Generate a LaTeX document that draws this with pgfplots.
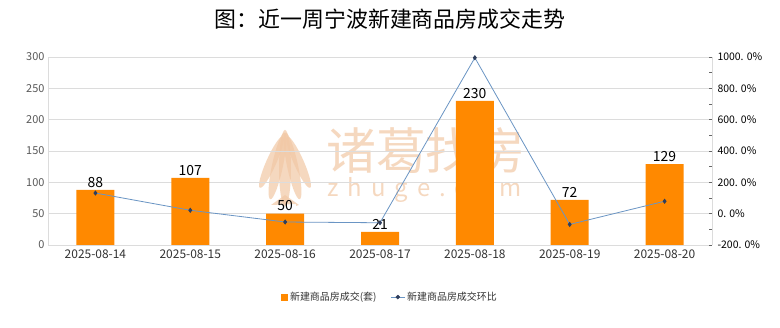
\documentclass[border=0pt]{standalone}
\usepackage{fontspec}
\setmainfont{Noto Sans CJK SC}
\usepackage{pgfplots}
\pgfplotsset{compat=1.18}
\pgfplotsset{/pgf/number format/assume math mode=true}
\definecolor{barorange}{RGB}{255,137,0}
\definecolor{wmark}{RGB}{242,200,165}
\definecolor{linecol}{RGB}{106,149,196}
\definecolor{markcol}{RGB}{47,62,92}
\definecolor{gridgray}{RGB}{220,220,220}
\definecolor{ticktext}{RGB}{89,89,89}
\definecolor{xtext}{RGB}{51,51,51}
\begin{document}
\begin{tikzpicture}
\path[use as bounding box, fill=white] (0bp,0bp) rectangle (780bp,328bp);
\node[font=\fontsize{22}{25}\selectfont, text=black] at (390bp,309bp) {图：近一周宁波新建商品房成交走势};
% watermark
\begin{scope}[opacity=0.7]
\node[text=wmark, font=\fontsize{50}{54}\selectfont, anchor=west, inner sep=0] at (326bp,177bp) {诸葛找房};
\node[text=wmark, font=\fontsize{24}{26}\selectfont, anchor=west, inner sep=0] at (327bp,138bp) {z\hspace{9bp}h\hspace{9bp}u\hspace{9bp}g\hspace{9bp}e\hspace{9bp}.\hspace{9bp}c\hspace{9bp}o\hspace{9bp}m};
\fill[wmark] (285bp,160bp) ellipse (6bp and 38bp);
\fill[wmark, rotate around={12:(285bp,140bp)}] (297bp,160bp) ellipse (5.5bp and 34bp);
\fill[wmark, rotate around={-12:(285bp,140bp)}] (273bp,160bp) ellipse (5.5bp and 34bp);
\fill[wmark, rotate around={24:(285bp,140bp)}] (308bp,158bp) ellipse (5bp and 28bp);
\fill[wmark, rotate around={-24:(285bp,140bp)}] (262bp,158bp) ellipse (5bp and 28bp);
\fill[wmark] (271bp,123bp) -- (285bp,133bp) -- (299bp,123bp) -- (296bp,122bp) -- (296bp,124bp) -- cycle;
\end{scope}
\begin{axis}[
  at={(48bp,83bp)}, anchor=south west, scale only axis,
  width=664bp, height=188bp,
  xmin=-0.5, xmax=6.5, ymin=0, ymax=300,
  ybar, bar width=38bp, bar shift=0pt,
  xtick={0,...,6},
  xticklabels={2025-08-14,2025-08-15,2025-08-16,2025-08-17,2025-08-18,2025-08-19,2025-08-20},
  ytick={0,50,...,300},
  ymajorgrids, grid style={gridgray, line width=0.6pt},
  axis x line*=bottom, axis y line*=left,
  axis line style={gridgray, line width=0.6pt},
  major tick length=0pt,
  x tick label style={font=\fontsize{12}{14}\selectfont, text=xtext},
  y tick label style={font=\fontsize{11}{13}\selectfont, text=ticktext},
  xticklabel style={yshift=-1bp},
  legend style={at={(0.515,-0.277)}, anchor=center, draw=none, fill=none,
    legend columns=2, font=\fontsize{10}{12}\selectfont, text=xtext,
    /tikz/every even column/.append style={column sep=12bp}},
]
\addplot[fill=barorange, draw=none,
  nodes near coords,
  every node near coord/.append style={font=\fontsize{14}{16}\selectfont, text=black, yshift=-1bp},
  legend image code/.code={\fill[barorange] (0bp,-3.5bp) rectangle (7bp,3.5bp);}
] coordinates {(0,88) (1,107) (2,50) (3,21) (4,230) (5,72) (6,129)};
\addlegendentry{新建商品房成交(套)}
\addlegendimage{legend image code/.code={
  \draw[linecol, line width=0.7pt] (0bp,0bp) -- (14bp,0bp);
  \fill[markcol] (7bp,2bp) -- (9bp,0bp) -- (7bp,-2bp) -- (5bp,0bp) -- cycle;}}
\addlegendentry{新建商品房成交环比}
\end{axis}
\begin{axis}[
  at={(48bp,83bp)}, anchor=south west, scale only axis,
  width=664bp, height=188bp,
  xmin=-0.5, xmax=6.5, ymin=-200, ymax=1000,
  axis x line=none, axis y line*=right,
  axis line style={gridgray, line width=0.6pt},
  ytick={-200,0,200,400,600,800,1000},
  yticklabels={-200. 0\%,0. 0\%,200. 0\%,400. 0\%,600. 0\%,800. 0\%,1000. 0\%},
  minor ytick={-100,100,300,500,700,900},
  tick align=inside, major tick length=3bp, minor tick length=3bp,
  tick style={black!60, line width=0.6pt},
  y tick label style={font=\fontsize{10.5}{13}\selectfont, text=black, xshift=2bp},
]
\addplot[linecol, line width=0.8pt, mark=diamond*, mark size=2bp,
  mark options={fill=markcol, draw=markcol}] coordinates {(0,131.6) (1,21.6) (2,-53.3) (3,-58.0) (4,995.2) (5,-68.7) (6,79.2)};
\end{axis}
\end{tikzpicture}
\end{document}
